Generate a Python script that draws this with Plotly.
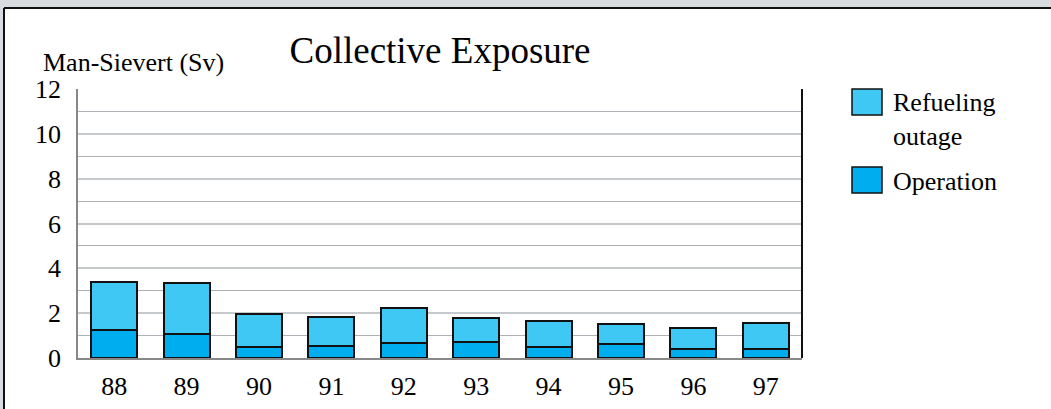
import plotly.graph_objects as go

years = ["88", "89", "90", "91", "92", "93", "94", "95", "96", "97"]
operation = [1.27, 1.06, 0.51, 0.55, 0.66, 0.70, 0.49, 0.61, 0.42, 0.42]
total = [3.40, 3.36, 1.97, 1.85, 2.22, 1.80, 1.64, 1.51, 1.36, 1.55]
refueling = [round(t - o, 2) for t, o in zip(total, operation)]
y_ticks = [0, 2, 4, 6, 8, 10, 12]

series_names = ["Refueling<br>outage", "Operation"]
col_refuel = "#40c8f4"
col_oper = "#00aeef"

W, H = 1051, 409
L, R, T, B = 78, 802, 89, 358
FONT = "'Liberation Serif', 'Times New Roman', Times, serif"


def px(sx):
    return (sx - L) / (R - L)


def py(sy):
    return 1 - (sy - T) / (B - T)


fig = go.Figure()
fig.add_trace(go.Bar(x=years, y=operation, name="Operation",
                     marker=dict(color=col_oper, line=dict(color="#111111", width=2)),
                     showlegend=False))
fig.add_trace(go.Bar(x=years, y=refueling, name="Refueling outage",
                     marker=dict(color=col_refuel, line=dict(color="#111111", width=2)),
                     showlegend=False))

shapes = [
    dict(type="rect", xref="paper", yref="paper", x0=px(4), x1=px(1070), y0=py(430), y1=py(8),
         fillcolor="white", line=dict(width=0), layer="below"),
    dict(type="line", xref="paper", yref="paper", x0=px(4), x1=px(1070), y0=py(8), y1=py(8),
         line=dict(color="#111111", width=2), layer="below"),
    dict(type="line", xref="paper", yref="paper", x0=px(4), x1=px(4), y0=py(8), y1=py(430),
         line=dict(color="#111111", width=2), layer="below"),
    dict(type="line", xref="paper", yref="paper", x0=1, x1=1, y0=0, y1=1,
         line=dict(color="#111111", width=2)),
    dict(type="rect", xref="paper", yref="paper", x0=px(852), x1=px(882), y0=py(115), y1=py(89),
         fillcolor=col_refuel, line=dict(color="#111111", width=1.5)),
    dict(type="rect", xref="paper", yref="paper", x0=px(852), x1=px(882), y0=py(193), y1=py(167),
         fillcolor=col_oper, line=dict(color="#111111", width=1.5)),
]

annotations = [
    dict(text="Man-Sievert (Sv)", xref="paper", yref="paper", x=px(41), y=py(62),
         xanchor="left", yanchor="middle", showarrow=False,
         font=dict(family=FONT, size=26, color="black")),
    dict(text=series_names[0], xref="paper", yref="paper", x=px(891), y=py(119),
         xanchor="left", yanchor="middle", align="left", showarrow=False,
         font=dict(family=FONT, size=26, color="black")),
    dict(text=series_names[1], xref="paper", yref="paper", x=px(891), y=py(181),
         xanchor="left", yanchor="middle", align="left", showarrow=False,
         font=dict(family=FONT, size=26, color="black")),
]

fig.update_layout(
    width=W, height=H,
    margin=dict(l=L, r=W - R, t=T, b=H - B, pad=0, autoexpand=False),
    paper_bgcolor="#d8dce0",
    plot_bgcolor="white",
    barmode="stack",
    bargap=0.365,
    showlegend=False,
    title=dict(text="Collective Exposure", x=440 / W, y=1 - 50 / H,
               xanchor="center", yanchor="middle", automargin=False,
               font=dict(family=FONT, size=37, color="black")),
    font=dict(family=FONT, color="black"),
    shapes=shapes,
    annotations=annotations,
)
fig.update_xaxes(showgrid=False, showline=True, linecolor="#888888", linewidth=1.5,
                 ticks="", tickfont=dict(family=FONT, size=26, color="black"),
                 ticklabelstandoff=4, automargin=False)
fig.update_yaxes(range=[0, 12], tickvals=y_ticks, showline=True, linecolor="#888888",
                 linewidth=1.5, gridcolor="#c6cacd", gridwidth=2,
                 minor=dict(dtick=1, showgrid=True, gridcolor="#aeb2b6", gridwidth=1),
                 ticks="", tickfont=dict(family=FONT, size=26, color="black"),
                 ticklabelstandoff=10, zeroline=False, automargin=False)

fig.write_html("out.html", config={"displayModeBar": False},
               post_script="document.body.style.margin='0';")
